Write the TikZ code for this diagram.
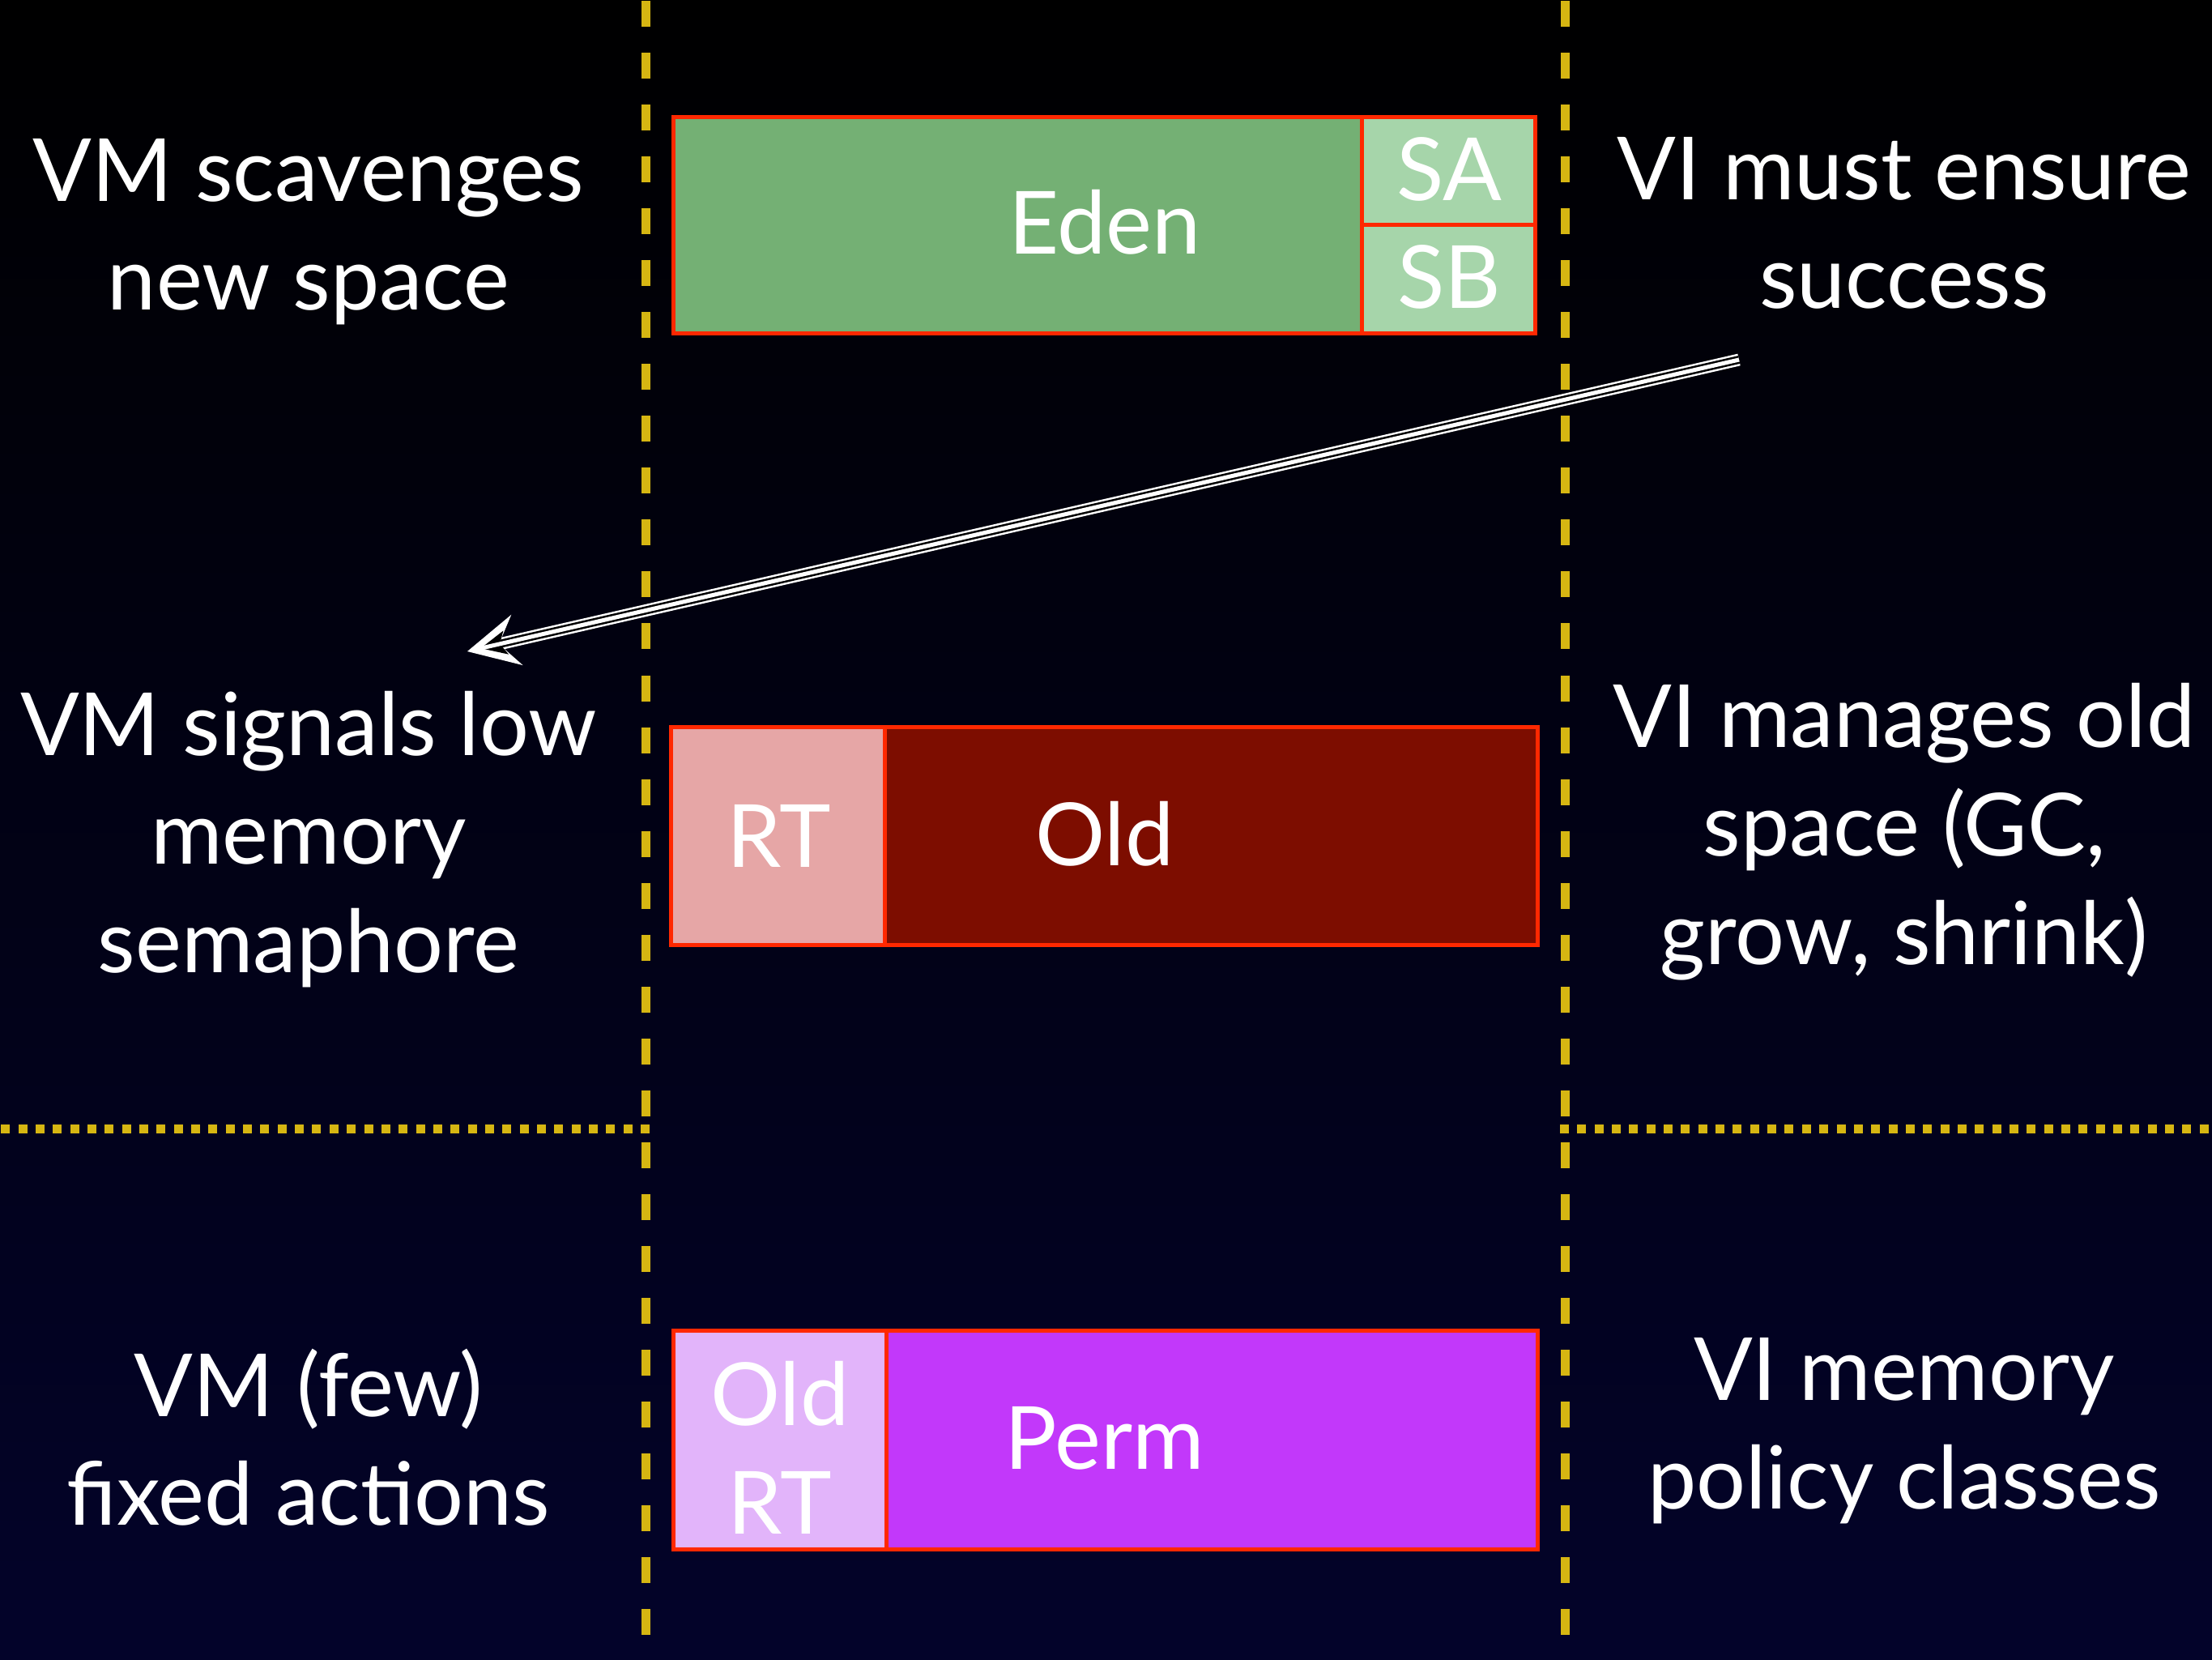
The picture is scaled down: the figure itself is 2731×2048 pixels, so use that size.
\documentclass[tikz,border=0pt]{standalone}
\usepackage{fontspec}
\setmainfont{Lato}
\usetikzlibrary{calc}
\definecolor{edenc}{RGB}{116,176,116}
\definecolor{survc}{RGB}{166,213,170}
\definecolor{bordc}{RGB}{255,40,0}
\definecolor{rtc}{RGB}{230,166,166}
\definecolor{oldc}{RGB}{125,13,0}
\definecolor{ortc}{RGB}{226,180,250}
\definecolor{permc}{RGB}{194,56,250}
\definecolor{yel}{RGB}{214,182,18}
\definecolor{navy}{RGB}{3,3,42}
\definecolor{navymid}{RGB}{1,1,18}
\newcommand\bigfont{\fontsize{30.6pt}{38.1pt}\selectfont}
\begin{document}
\begin{tikzpicture}[x=0.01cm, y=-0.01cm,
  box/.style={draw=bordc, line width=0.05cm, inner sep=0pt, outer sep=0pt},
  lbl/.style={text=white, font=\bigfont, align=center, inner sep=0pt, anchor=base},
  vdash/.style={draw=yel, line width=0.11cm, dash pattern=on 0.32cm off 0.32cm},
  hdot/.style={draw=yel, line width=0.11cm, dash pattern=on 0.11cm off 0.1033cm},
]
\shade[top color=black, middle color=navymid, bottom color=navy] (0,0) rectangle (2731,2048);
\useasboundingbox (0,0) rectangle (2731,2048);

% guide lines
\draw[vdash] (797,1) -- (797,2048);
\draw[vdash] (1932,1) -- (1932,2048);
\draw[hdot] (802,1393.5) -- (0,1393.5);
\draw[hdot] (1926,1393.5) -- (2731,1393.5);

% memory boxes
\node[box, fill=edenc, minimum width=8.5cm, minimum height=2.66cm] (eden) at (1257,278) {};
\node[box, fill=survc, minimum width=2.13cm, minimum height=1.33cm] (sa) at (1788.5,211.5) {};
\node[box, fill=survc, minimum width=2.13cm, minimum height=1.33cm] (sb) at (1788.5,344.5) {};
\node[box, fill=oldc, minimum width=8.06cm, minimum height=2.68cm] (old) at (1495,1032) {};
\node[box, fill=rtc, minimum width=2.63cm, minimum height=2.68cm] (rt) at (960.5,1032) {};
\node[box, fill=permc, minimum width=8.04cm, minimum height=2.69cm] (perm) at (1496,1777.5) {};
\node[box, fill=ortc, minimum width=2.62cm, minimum height=2.69cm] (ort) at (963,1777.5) {};

% box labels (anchor base = last line)
\node[lbl] (edenL) at (1364,313) {Eden};
\node[lbl] (saL) at (1789,247) {SA};
\node[lbl] (sbL) at (1789,380) {SB};
\node[lbl] (rtL) at (962,1070) {RT};
\node[lbl] (oldL) at (1364,1068) {Old};
\node[lbl] (ortL) at (963,1893) {Old\\RT};
\node[lbl] (permL) at (1364,1813) {Perm};

% side texts (anchor base = last line)
\node[lbl] (l1) at (381,382) {VM scavenges\\new space};
\node[lbl] (r1) at (2351,380) {VI must ensure\\success};
\node[lbl] (l2) at (381,1200) {VM signals low\\memory\\semaphore};
\node[lbl] (r2) at (2351,1190) {VI manages old\\space (GC,\\grow, shrink)};
\node[lbl] (l3) at (381,1882) {VM (few)\\fixed actions};
\node[lbl] (r3) at (2351,1862) {VI memory\\policy classes};

% arrow
\coordinate (arrS) at (2147,444);
\coordinate (arrE) at (577,804);
\coordinate (arrN) at ($(arrE)!0.40cm!(arrS)$);
\coordinate (arrC) at ($(arrE)!0.12cm!(arrS)$);
\draw[white, line width=0.15cm] (arrS) -- (arrN);
\draw[black, line width=0.10cm] (arrS) -- (arrN);
\fill[white] (arrE) -- ($(arrE)!0.63cm!(arrS)!0.32cm!90:(arrS)$) -- (arrN)
  -- ($(arrE)!0.63cm!(arrS)!0.32cm!-90:(arrS)$) -- cycle;
\fill[black] ($(arrE)!0.17cm!(arrS)$) -- ($(arrE)!0.49cm!(arrS)!0.15cm!90:(arrS)$)
  -- ($(arrE)!0.41cm!(arrS)$) -- ($(arrE)!0.49cm!(arrS)!0.15cm!-90:(arrS)$) -- cycle;
\draw[white, line width=0.05cm] (arrS) -- (arrC);
\end{tikzpicture}
\end{document}
